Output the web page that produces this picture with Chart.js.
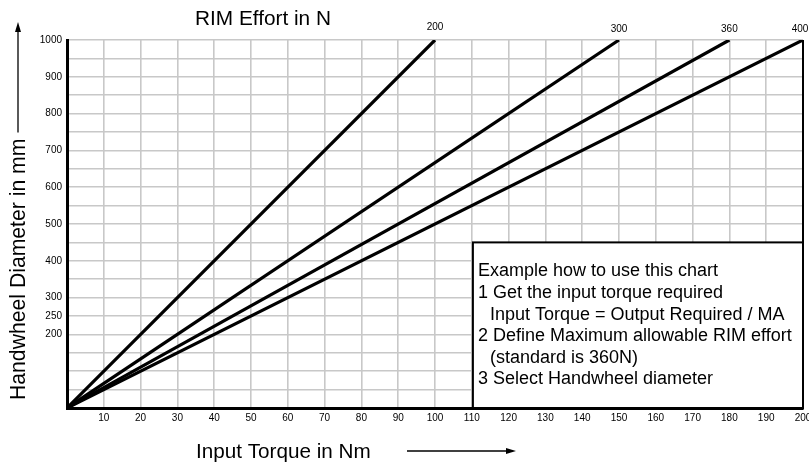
<!DOCTYPE html>
<html>
<head>
<meta charset="utf-8">
<script src="https://cdn.jsdelivr.net/npm/chart.js@4.4.1/dist/chart.umd.min.js"></script>
<style>
  body { margin: 0; background: #fff; }
  canvas { display: block; }
</style>
</head>
<body>
<canvas id="handwheelChart" width="809" height="465"></canvas>
<script>
// RIM effort lines: each runs from the origin to the torque where diameter hits 1000 mm
const rimEfforts = [200, 300, 360, 400];
const startTorque = [0, 0, 0, 0];
const endTorque = [100, 150, 180, 200];
const startDiameter = [0, 0, 0, 0];
const endDiameter = [1000, 1000, 1000, 1000];

// y tick labels that are actually printed on the chart
const yLabels = [200, 250, 300, 400, 500, 600, 700, 800, 900, 1000];

const noteLines = [
  { text: 'Example how to use this chart', indent: 0 },
  { text: '1 Get the input torque required', indent: 0 },
  { text: 'Input Torque = Output Required / MA', indent: 12 },
  { text: '2 Define Maximum allowable RIM effort', indent: 0 },
  { text: '(standard is 360N)', indent: 12 },
  { text: '3 Select Handwheel diameter', indent: 0 }
];

const FONT = '"Liberation Sans", Arial, sans-serif';

const datasets = rimEfforts.map((effort, i) => ({
  label: effort + ' N',
  data: [
    { x: startTorque[i], y: startDiameter[i] },
    { x: endTorque[i], y: endDiameter[i] }
  ],
  borderColor: '#000',
  borderWidth: 3.2,
  pointRadius: 0,
  fill: false
}));

function arrowHead(ctx, x, y, dir) {
  // dir: 'up' or 'right'
  ctx.beginPath();
  if (dir === 'up') {
    ctx.moveTo(x, y);
    ctx.lineTo(x - 3, y + 10);
    ctx.lineTo(x + 3, y + 10);
  } else {
    ctx.moveTo(x, y);
    ctx.lineTo(x - 10, y - 3);
    ctx.lineTo(x - 10, y + 3);
  }
  ctx.closePath();
  ctx.fill();
}

const decorations = {
  id: 'decorations',
  afterDraw(chart) {
    const { ctx, chartArea, scales } = chart;
    const xs = scales.x, ys = scales.y;
    ctx.save();
    ctx.fillStyle = '#000';
    ctx.strokeStyle = '#000';

    // right frame line at 200 Nm
    ctx.lineWidth = 2;
    ctx.beginPath();
    ctx.moveTo(xs.getPixelForValue(200), chartArea.top);
    ctx.lineTo(xs.getPixelForValue(200), chartArea.bottom);
    ctx.stroke();

    // top title
    ctx.font = '20.8px ' + FONT;
    ctx.textAlign = 'left';
    ctx.textBaseline = 'alphabetic';
    ctx.fillText('RIM Effort in N', 195, 25);

    // effort labels at line ends
    ctx.font = '10px ' + FONT;
    ctx.textAlign = 'center';
    rimEfforts.forEach((effort, i) => {
      const px = xs.getPixelForValue(endTorque[i]);
      const py = ys.getPixelForValue(endDiameter[i]);
      ctx.fillText(String(effort), Math.min(px, 800), py - 10 - (i > 0 ? -2 : 0));
    });

    // y axis title with arrow
    ctx.save();
    ctx.translate(25, 400);
    ctx.rotate(-Math.PI / 2);
    ctx.font = '21.2px ' + FONT;
    ctx.textAlign = 'left';
    const w = ctx.measureText('Handwheel Diameter in mm').width;
    ctx.fillText('Handwheel Diameter in mm', 0, 0);
    ctx.restore();
    const yEnd = 400 - w - 6;
    ctx.lineWidth = 1.3;
    ctx.beginPath();
    ctx.moveTo(18, yEnd);
    ctx.lineTo(18, 30);
    ctx.stroke();
    arrowHead(ctx, 18, 22, 'up');

    // x axis title with arrow
    ctx.font = '20.7px ' + FONT;
    ctx.textAlign = 'left';
    ctx.fillText('Input Torque in Nm', 196, 458);
    ctx.beginPath();
    ctx.moveTo(407, 451);
    ctx.lineTo(508, 451);
    ctx.stroke();
    arrowHead(ctx, 516, 451, 'right');

    // note box
    const bx = xs.getPixelForValue(110.3), by = ys.getPixelForValue(450);
    const bw = xs.getPixelForValue(200) - bx, bh = chartArea.bottom - by;
    ctx.fillStyle = '#fff';
    ctx.fillRect(bx, by, bw, bh);
    ctx.lineWidth = 2;
    ctx.strokeRect(bx, by, bw, bh);
    ctx.fillStyle = '#000';
    ctx.font = '18px ' + FONT;
    noteLines.forEach((line, i) => {
      ctx.fillText(line.text, bx + 5 + line.indent, by + 34 + i * 21.6);
    });

    ctx.restore();
  }
};

new Chart(document.getElementById('handwheelChart'), {
  type: 'line',
  data: { datasets: datasets },
  options: {
    responsive: false,
    animation: false,
    layout: { padding: { left: 0, top: 40, right: 6, bottom: 0 } },
    plugins: {
      legend: { display: false },
      tooltip: { enabled: false }
    },
    scales: {
      x: {
        type: 'linear',
        min: 0,
        max: 200,
        ticks: {
          stepSize: 10,
          autoSkip: false,
          maxRotation: 0,
          padding: 4,
          color: '#000',
          font: { family: FONT, size: 10 },
          callback: v => (v === 0 ? '' : v)
        },
        grid: { color: '#c8c8c8', lineWidth: 1.6, drawTicks: false },
        border: { display: true, color: '#000', width: 3 },
        afterFit(scale) {
          scale.height = 57;
          scale.paddingLeft = 0;
          scale.paddingRight = 0;
        }
      },
      y: {
        min: 0,
        max: 1000,
        ticks: {
          stepSize: 50,
          autoSkip: false,
          padding: 5,
          color: '#000',
          font: { family: FONT, size: 10 },
          callback: v => (yLabels.includes(v) ? v : '')
        },
        grid: { color: '#c8c8c8', lineWidth: 1.6, drawTicks: false },
        border: { display: true, color: '#000', width: 3 },
        afterFit(scale) {
          scale.width = 67;
        }
      }
    }
  },
  plugins: [decorations]
});
</script>
</body>
</html>
